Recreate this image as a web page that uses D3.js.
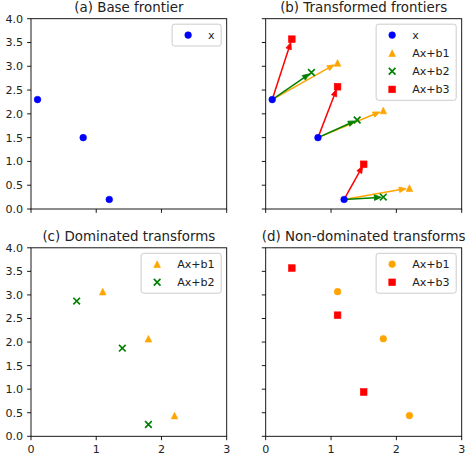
<!DOCTYPE html>
<html>
<head>
<meta charset="utf-8">
<script src="https://cdn.jsdelivr.net/npm/d3@7"></script>
<style>
  body { margin: 0; background: #fff; }
  svg { display: block; font-family: "DejaVu Sans", sans-serif; }
</style>
</head>
<body>
<div id="chart"></div>
<script>
// base frontier and its three transforms
const baseX = [0.1, 0.8, 1.2];
const baseY = [2.3, 1.5, 0.2];
const b1X = [1.1, 1.8, 2.2];
const b1Y = [3.07, 2.07, 0.44];
const b2X = [0.7, 1.4, 1.8];
const b2Y = [2.87, 1.87, 0.25];
const b3X = [0.4, 1.1, 1.5];
const b3Y = [3.57, 2.57, 0.94];

const xTicks = [0, 1, 2, 3];
const yTicks = [0, 0.5, 1, 1.5, 2, 2.5, 3, 3.5, 4];
const titles = ["(a) Base frontier", "(b) Transformed frontiers", "(c) Dominated transforms", "(d) Non-dominated transforms"];

const W = 467, H = 459;
const cols = [[31, 226.7], [265.7, 461.7]];
const rows = [[18.7, 209], [247.8, 436.3]];
const fs = 11.1, tickLen = 3.9, ms = 6.67;

const svg = d3.select("#chart").append("svg")
    .attr("width", W)
    .attr("height", H);

function pts(xs, ys) {
    return xs.map((x, i) => ({ x: x, y: ys[i] }));
}

function marker(g, type, cx, cy, color) {
    const h = ms / 2;
    if (type === "o") {
        g.append("circle").attr("cx", cx).attr("cy", cy).attr("r", h)
            .attr("fill", color).attr("stroke", color).attr("stroke-width", 0.6);
    } else if (type === "^") {
        g.append("path")
            .attr("d", `M${cx},${cy - h}L${cx - h},${cy + h}L${cx + h},${cy + h}Z`)
            .attr("fill", color).attr("stroke", color).attr("stroke-width", 0.6);
    } else if (type === "s") {
        g.append("rect").attr("x", cx - h).attr("y", cy - h).attr("width", ms).attr("height", ms)
            .attr("fill", color).attr("stroke", color).attr("stroke-width", 0.6);
    } else if (type === "x") {
        g.append("path")
            .attr("d", `M${cx - h},${cy - h}L${cx + h},${cy + h}M${cx - h},${cy + h}L${cx + h},${cy - h}`)
            .attr("fill", "none").attr("stroke", color).attr("stroke-width", 1.67);
    }
}

function panel(idx, cfg) {
    const c = idx % 2, r = Math.floor(idx / 2);
    const x = d3.scaleLinear().domain([0, 3]).range(cols[c]);
    const y = d3.scaleLinear().domain([0, 4]).range([rows[r][1], rows[r][0]]);
    const g = svg.append("g");

    // arrows from base points
    (cfg.arrows || []).forEach(a => {
        const src = pts(baseX, baseY), dst = pts(a.xs, a.ys);
        src.forEach((s, i) => {
            const x0 = x(s.x), y0 = y(s.y);
            const x1 = x(dst[i].x), y1 = y(dst[i].y);
            const dx = x1 - x0, dy = y1 - y0;
            const len = Math.hypot(dx, dy);
            const ux = dx / len, uy = dy / len;
            const tipX = x0 + dx * 0.95, tipY = y0 + dy * 0.95;
            const hl = 7, hw = 2.8;
            const bx = tipX - ux * hl, by = tipY - uy * hl;
            g.append("line")
                .attr("x1", x0).attr("y1", y0)
                .attr("x2", bx).attr("y2", by)
                .attr("stroke", a.color)
                .attr("stroke-width", 1.5);
            g.append("path")
                .attr("d", `M${tipX},${tipY}L${bx - uy * hw},${by + ux * hw}L${bx + uy * hw},${by - ux * hw}Z`)
                .attr("fill", a.color)
                .attr("stroke", a.color)
                .attr("stroke-width", 0.8);
        });
    });

    cfg.series.forEach(s => {
        pts(s.xs, s.ys).forEach(p => marker(g, s.type, x(p.x), y(p.y), s.color));
    });

    // frame
    g.append("rect")
        .attr("x", cols[c][0]).attr("y", rows[r][0])
        .attr("width", cols[c][1] - cols[c][0])
        .attr("height", rows[r][1] - rows[r][0])
        .attr("fill", "none")
        .attr("stroke", "#000")
        .attr("stroke-width", 0.9);

    // ticks
    xTicks.forEach(t => {
        g.append("line")
            .attr("x1", x(t)).attr("x2", x(t))
            .attr("y1", rows[r][1]).attr("y2", rows[r][1] + tickLen)
            .attr("stroke", "#000").attr("stroke-width", 0.9);
        if (r === 1) {
            g.append("text")
                .attr("x", x(t)).attr("y", rows[r][1] + tickLen + 3.9)
                .attr("dy", "0.76em")
                .attr("text-anchor", "middle")
                .style("font-size", fs + "px")
                .attr("fill", "#222")
                .text(t);
        }
    });
    yTicks.forEach(t => {
        g.append("line")
            .attr("x1", cols[c][0] - tickLen).attr("x2", cols[c][0])
            .attr("y1", y(t)).attr("y2", y(t))
            .attr("stroke", "#000").attr("stroke-width", 0.9);
        if (c === 0) {
            g.append("text")
                .attr("x", cols[c][0] - tickLen - 3.9).attr("y", y(t))
                .attr("dy", "0.36em")
                .attr("text-anchor", "end")
                .style("font-size", fs + "px")
                .attr("fill", "#222")
                .text(d3.format(".1f")(t));
        }
    });

    g.append("text")
        .attr("x", (cols[c][0] + cols[c][1]) / 2)
        .attr("y", rows[r][0] - 6.7)
        .attr("text-anchor", "middle")
        .style("font-size", "13.4px")
        .attr("fill", "#222")
        .text(titles[idx]);

    // legend
    const lg = g.append("g");
    const items = cfg.series;
    const texts = items.map(s => lg.append("text")
        .style("font-size", fs + "px")
        .attr("fill", "#222")
        .attr("dy", "0.36em")
        .text(s.label));
    const tw = d3.max(texts, t => t.node().getComputedTextLength());
    const bw = 36 + tw + 6.5;
    const bh = 9 + items.length * 12.8 + (items.length - 1) * 5.3;
    const bx = cols[c][1] - 5.5 - bw, by = rows[r][0] + 5.5;
    lg.insert("rect", "text")
        .attr("x", bx).attr("y", by)
        .attr("width", bw).attr("height", bh)
        .attr("rx", 2.5)
        .attr("fill", "#fff").attr("fill-opacity", 0.8)
        .attr("stroke", "#ccc").attr("stroke-width", 1);
    items.forEach((s, i) => {
        const cy = by + 10.9 + i * 18.1;
        marker(lg, s.type, bx + 16, cy, s.color);
        texts[i].attr("x", bx + 36).attr("y", cy);
    });
}

const sX = { xs: baseX, ys: baseY, type: "o", color: "blue", label: "x" };
const s1 = { xs: b1X, ys: b1Y, type: "^", color: "orange", label: "Ax+b1" };
const s2 = { xs: b2X, ys: b2Y, type: "x", color: "green", label: "Ax+b2" };
const s3 = { xs: b3X, ys: b3Y, type: "s", color: "red", label: "Ax+b3" };

panel(0, { series: [sX] });
panel(1, {
    series: [sX, s1, s2, s3],
    arrows: [{ xs: b1X, ys: b1Y, color: "orange" }, { xs: b2X, ys: b2Y, color: "green" }, { xs: b3X, ys: b3Y, color: "red" }]
});
panel(2, { series: [s1, s2] });
panel(3, { series: [Object.assign({}, s1, { type: "o" }), s3] });
</script>
</body>
</html>
